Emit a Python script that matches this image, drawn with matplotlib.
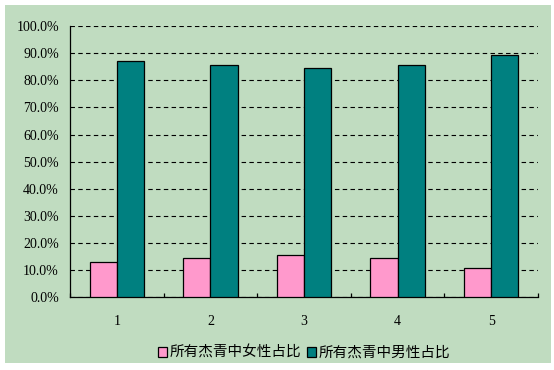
import numpy as np
import matplotlib.pyplot as plt
from matplotlib.patches import Rectangle
from matplotlib.ticker import PercentFormatter

categories = ['1', '2', '3', '4', '5']
female = [12.9, 14.4, 15.5, 14.4, 10.7]   # 所有杰青中女性占比 (%)
male = [87.1, 85.6, 84.5, 85.6, 89.3]     # 所有杰青中男性占比 (%)
series_names = ['所有杰青中女性占比', '所有杰青中男性占比']

bg = '#C0DCC0'
pink = '#FF99CC'
teal = '#008080'

fig = plt.figure(figsize=(5.54, 3.70), dpi=100, facecolor='white')
fig.add_artist(Rectangle((5/554, 7/370), 546/554, 358/370, transform=fig.transFigure,
                         facecolor=bg, edgecolor='none', zorder=-10))
ax = fig.add_axes([70/554, (370-297.3)/370, 468/554, 271.3/370])
ax.set_facecolor(bg)

x = np.arange(len(categories))
w = 0.29
ax.bar(x - w/2, np.array(female)/100, w, color=pink, edgecolor='black', linewidth=0.9,
       label=series_names[0], zorder=3)
ax.bar(x + w/2, np.array(male)/100, w, color=teal, edgecolor='black', linewidth=0.9,
       label=series_names[1], zorder=3)

ax.set_xlim(-0.5, len(categories) - 0.5)
ax.set_ylim(0, 1)
ax.set_yticks(np.arange(0, 1.01, 0.1))
ax.yaxis.set_major_formatter(PercentFormatter(1.0, decimals=1))
ax.yaxis.grid(True, color='black', linestyle=(0, (4, 3)), linewidth=0.8, zorder=1)
for lbl in ax.get_yticklabels():
    lbl.set_family('Liberation Serif')
ax.tick_params(axis='y', length=0, pad=8, labelsize=10)

ax.set_xticks(x)
ax.set_xticklabels(categories, family='Liberation Serif', fontsize=10)
ax.set_xticks(np.arange(-0.5, len(categories), 1.0), minor=True)
ax.tick_params(axis='x', which='major', length=0, pad=13)
ax.tick_params(axis='x', which='minor', direction='in', length=3, width=0.9)

for s in ['top', 'right']:
    ax.spines[s].set_visible(False)
ax.spines['left'].set_linewidth(0.9)
ax.spines['bottom'].set_linewidth(0.9)

fig.legend(loc='center', bbox_to_anchor=(304/554, (370-353)/370), ncol=2, frameon=False,
           prop={'family': 'Noto Sans CJK SC', 'size': 10.5},
           handlelength=0.6, handleheight=0.6, handletextpad=0.2, columnspacing=0.4,
           borderpad=0)

fig.savefig('out.png', dpi=100, facecolor='white')
